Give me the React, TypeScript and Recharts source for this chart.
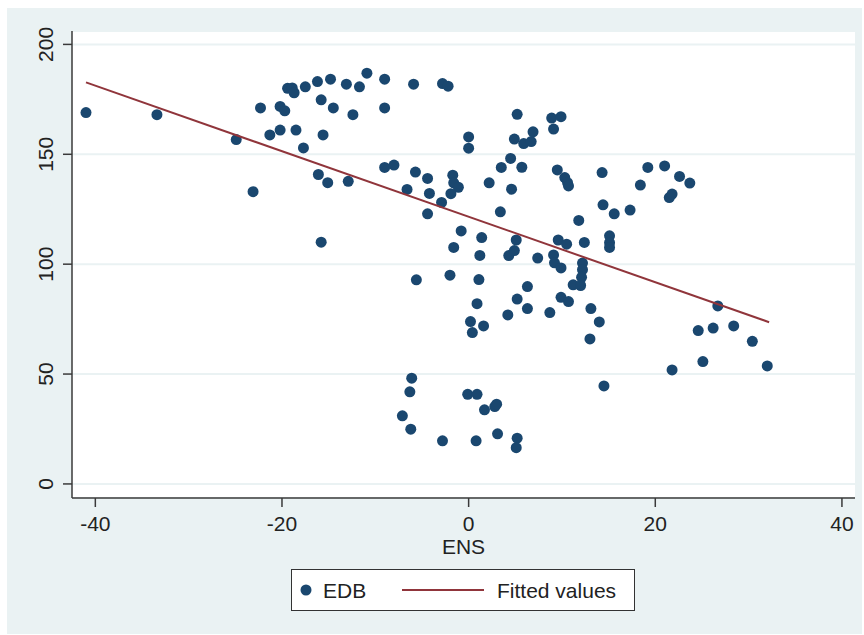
import { ScatterChart, Scatter, XAxis, YAxis, CartesianGrid, Legend } from "recharts";

const ens = [
  -41.0, -33.4, -24.9, -23.1, -22.3, -21.3, -20.2, -20.2, -19.7, -19.4, -18.9, -18.7, -18.5, -17.7, -17.5,
  -16.2, -15.8, -15.6, -16.1, -15.1, -15.8, -14.8, -14.5, -13.1, -12.9, -12.4, -11.7, -10.9, -9.0, -9.0,
  -9.0, -8.0, -6.6, -5.9, -5.7, -4.4, -4.2, -4.4, -2.9, -2.8, -2.2, -1.7, -1.6, -1.1, -1.9,
  0.0, 0.0, -0.8, 1.4, -1.6, 1.2, 4.3, 4.9, 5.1, 2.2, 3.4, 4.6, 4.5, 3.5, 4.9,
  5.2, 5.9, 6.7, 6.9, 8.9, 9.9, 9.1, 5.7, 9.5, 10.3, 10.6, 10.7, 14.3, 19.2, 21.0,
  22.6, 23.7, 18.4, 21.5, 21.8, 14.4, 15.6, 17.3, 11.8, 9.6, 10.5, 12.4, 15.1, 15.1, 15.1,
  7.4, 9.1, 9.2, 9.9, 12.2, 12.2, 12.1, 11.2, 12.0, -5.6, -2.0, 1.1, 0.9, 0.2, 0.4,
  1.6, 4.2, 5.2, 6.3, 6.3, 8.7, 9.9, 10.7, 13.1, 14.0, 13.0, 14.5, 26.7, 24.6, 26.2,
  28.4, 30.4, 21.8, 25.1, 32.0, -6.1, -6.3, -7.1, -6.2, -2.8, -0.1, 0.9, 1.7, 2.8, 3.0,
  0.8, 3.1, 5.2, 5.1,
];

const edb = [
  169.0, 168.0, 156.7, 133.0, 171.1, 158.8, 161.0, 171.8, 169.8, 180.0, 180.2, 178.0, 161.0, 152.9, 180.7,
  183.1, 174.8, 158.8, 140.8, 137.1, 110.0, 184.2, 171.1, 181.9, 137.7, 168.0, 180.7, 186.9, 184.2, 171.1,
  144.0, 145.1, 134.0, 181.9, 141.9, 139.0, 132.2, 122.9, 128.1, 182.2, 181.0, 140.5, 137.0, 135.0, 132.1,
  157.9, 152.8, 115.1, 112.1, 107.6, 104.0, 103.9, 106.2, 111.0, 137.0, 123.8, 134.1, 148.1, 144.0, 156.9,
  168.2, 154.9, 155.8, 160.2, 166.5, 167.1, 161.5, 144.1, 142.9, 139.4, 137.1, 135.6, 141.7, 144.0, 144.7,
  139.9, 136.9, 136.0, 130.3, 131.9, 127.0, 122.9, 124.6, 119.9, 111.0, 109.1, 109.9, 112.9, 109.8, 107.6,
  102.8, 104.2, 100.6, 98.3, 100.5, 97.5, 94.0, 90.6, 90.3, 92.9, 95.0, 93.0, 82.0, 73.9, 68.9,
  71.9, 76.9, 84.1, 89.8, 79.8, 78.0, 84.9, 83.0, 79.8, 73.7, 66.0, 44.6, 81.0, 69.8, 70.9,
  71.9, 64.9, 51.9, 55.7, 53.7, 48.1, 41.9, 31.0, 24.9, 19.6, 40.8, 40.8, 33.7, 35.2, 36.3,
  19.6, 22.8, 20.8, 16.5,
];

// fitted line, endpoints
const fittedEns = [-41.0, 32.2];
const fittedValues = [182.7, 73.6];

const xTicks = [-40, -20, 0, 20, 40];
const yTicks = [0, 50, 100, 150, 200];

const points = ens.map((x, i) => ({ x, y: edb[i] }));
const fitted = fittedEns.map((x, i) => ({ x, y: fittedValues[i] }));

const FONT = "Arial, 'Liberation Sans', sans-serif";
const NAVY = "#1A476F";
const MAROON = "#90353B";
const BG = "#EAF2F3";

const Dot = (props: any) => <circle cx={props.cx} cy={props.cy} r={5.5} fill={NAVY} />;
const NoDot = () => <g />;

const XTick = ({ x, y, payload }: any) => (
  <text x={x} y={y} dy={24} textAnchor="middle" fontSize={21} fontFamily={FONT} fill="#222">
    {payload.value}
  </text>
);

const YTick = ({ x, y, payload }: any) => {
  const bx = x - 10;
  return (
    <text x={bx} y={y} textAnchor="middle" fontSize={21} fontFamily={FONT} fill="#222" transform={`rotate(-90, ${bx}, ${y})`}>
      {payload.value}
    </text>
  );
};

const LegendBox = () => (
  <div
    style={{
      width: 344,
      height: 42,
      background: "#fff",
      border: "1px solid #333",
      boxSizing: "border-box",
      position: "relative",
      fontFamily: FONT,
      fontSize: 21,
      color: "#222",
    }}
  >
    <svg width={342} height={40} style={{ position: "absolute", left: 0, top: 0 }}>
      <circle cx={14} cy={20} r={5.5} fill={NAVY} />
      <text x={31} y={27.5} fontSize={21} fontFamily={FONT} fill="#222">EDB</text>
      <line x1={110} y1={20} x2={192} y2={20} stroke={MAROON} strokeWidth={2} />
      <text x={205} y={27.5} fontSize={21} fontFamily={FONT} fill="#222">Fitted values</text>
    </svg>
  </div>
);

export default function App() {
  return (
    <div style={{ position: "absolute", left: 7, top: 8, width: 855, height: 626, background: BG }}>
      <ScatterChart width={855} height={626} margin={{ top: 23, right: 7, left: 0, bottom: 0 }}>
        <CartesianGrid vertical={false} fill="#fff" stroke={BG} strokeWidth={2} />
        <XAxis
          type="number"
          dataKey="x"
          domain={[-42.5, 41.4]}
          ticks={xTicks}
          height={136}
          tickSize={9}
          tickMargin={0}
          tick={<XTick />}
          axisLine={{ stroke: "#3a3a3a", strokeWidth: 1.5 }}
          tickLine={{ stroke: "#3a3a3a", strokeWidth: 1.5 }}
          allowDataOverflow
          label={(props: any) => {
            const vb = props.viewBox;
            return (
              <text x={vb.x + vb.width / 2} y={vb.y + 55.5} textAnchor="middle" fontSize={21} fontFamily={FONT} fill="#222">
                ENS
              </text>
            );
          }}
        />
        <YAxis
          type="number"
          dataKey="y"
          domain={[-6.4, 206.1]}
          ticks={yTicks}
          width={65}
          tickSize={9}
          tickMargin={0}
          tick={<YTick />}
          axisLine={{ stroke: "#3a3a3a", strokeWidth: 1.5 }}
          tickLine={{ stroke: "#3a3a3a", strokeWidth: 1.5 }}
          allowDataOverflow
        />
        <Scatter name="EDB" data={points} shape={Dot} isAnimationActive={false} />
        <Scatter
          name="Fitted values"
          data={fitted}
          line={{ stroke: MAROON, strokeWidth: 2 }}
          shape={NoDot}
          isAnimationActive={false}
        />
        <Legend
          layout="horizontal"
          verticalAlign="middle"
          align="center"
          wrapperStyle={{ left: 284, top: 561, width: 344, height: 42 }}
          content={() => <LegendBox />}
        />
      </ScatterChart>
    </div>
  );
}
